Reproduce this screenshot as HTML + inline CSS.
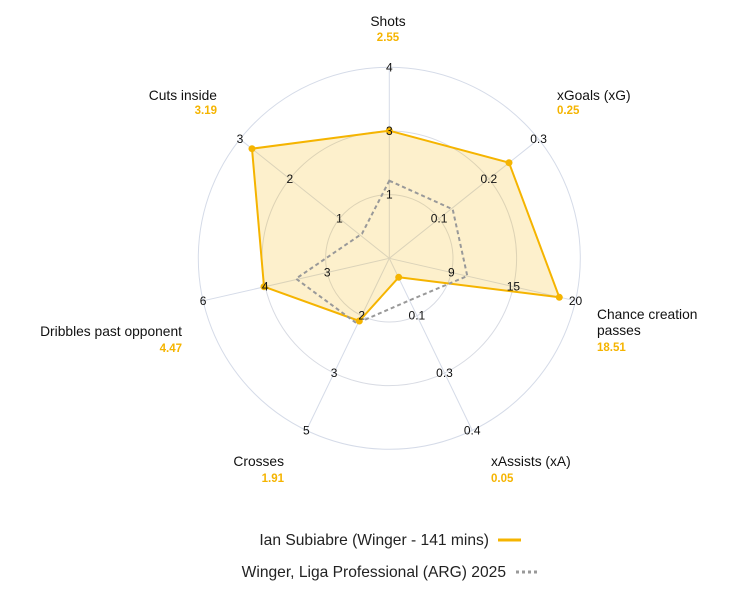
<!DOCTYPE html>
<html><head><meta charset="utf-8"><style>
body{margin:0;background:#fff;width:750px;height:597px;overflow:hidden}
svg{display:block;font-family:"Liberation Sans",Arial,sans-serif}
.t{font-size:12px;fill:#111;text-anchor:middle;dominant-baseline:central}
.l{font-size:13.8px;fill:#111}
.v{font-size:11.5px;font-weight:bold;fill:#f5b400}
</style></head><body>
<svg width="750" height="597" viewBox="0 0 750 597">
<g fill="none">
<circle cx="389.3" cy="258.3" r="63.7" stroke="#d8dbe3"/>
<circle cx="389.3" cy="258.3" r="127.3" stroke="#d8dbe3"/>
<circle cx="389.3" cy="258.3" r="191" stroke="#d5dbe8"/>
<g stroke="#d5dbe8">
<line x1="389.3" y1="258.3" x2="389.3" y2="67.3"/>
<line x1="389.3" y1="258.3" x2="538.6" y2="139.2"/>
<line x1="389.3" y1="258.3" x2="575.5" y2="300.8"/>
<line x1="389.3" y1="258.3" x2="472.2" y2="430.4"/>
<line x1="389.3" y1="258.3" x2="306.4" y2="430.4"/>
<line x1="389.3" y1="258.3" x2="203.1" y2="300.8"/>
<line x1="389.3" y1="258.3" x2="240" y2="139.2"/>
</g>
<polygon points="389.3,130.7 509,162.7 559.3,297.3 398.7,277.3 359.3,321 264,286.7 252,148.7" fill="rgba(245,180,0,0.2)" stroke="#f5b400" stroke-width="2" stroke-linejoin="round"/>
<polygon points="389.3,180.7 452.7,209.3 467.3,276 409.6,300.3 356.7,323.3 296,278.7 362,233.7" stroke="#999" stroke-width="2" stroke-dasharray="4,3"/>
</g>
<g fill="#f5b400">
<circle cx="389.3" cy="130.7" r="3.5"/><circle cx="509" cy="162.7" r="3.5"/><circle cx="559.3" cy="297.3" r="3.5"/><circle cx="398.7" cy="277.3" r="3.5"/><circle cx="359.3" cy="321" r="3.5"/><circle cx="264" cy="286.7" r="3.5"/><circle cx="252" cy="148.7" r="3.5"/>
</g>
<g>
<text class="t" x="389.3" y="194.6">1</text><text class="t" x="389.3" y="131">3</text><text class="t" x="389.3" y="67.3">4</text>
<text class="t" x="439.1" y="218.6">0.1</text><text class="t" x="488.8" y="178.9">0.2</text><text class="t" x="538.6" y="139.2">0.3</text>
<text class="t" x="451.4" y="272.5">9</text><text class="t" x="513.4" y="286.6">15</text><text class="t" x="575.5" y="300.8">20</text>
<text class="t" x="416.9" y="315.7">0.1</text><text class="t" x="444.5" y="373">0.3</text><text class="t" x="472.2" y="430.4">0.4</text>
<text class="t" x="361.7" y="315.7">2</text><text class="t" x="334.1" y="373">3</text><text class="t" x="306.4" y="430.4">5</text>
<text class="t" x="327.2" y="272.5">3</text><text class="t" x="265.2" y="286.6">4</text><text class="t" x="203.1" y="300.8">6</text>
<text class="t" x="339.5" y="218.6">1</text><text class="t" x="289.8" y="178.9">2</text><text class="t" x="240" y="139.2">3</text>
</g>
<text class="l" x="388" y="26" text-anchor="middle">Shots</text>
<text class="v" x="388" y="41" text-anchor="middle">2.55</text>
<text class="l" x="217" y="100" text-anchor="end">Cuts inside</text>
<text class="v" x="217" y="114" text-anchor="end">3.19</text>
<text class="l" x="557" y="100">xGoals (xG)</text>
<text class="v" x="557" y="114">0.25</text>
<text class="l" x="597" y="319">Chance creation</text>
<text class="l" x="597" y="335">passes</text>
<text class="v" x="597" y="351">18.51</text>
<text class="l" x="182" y="336" text-anchor="end">Dribbles past opponent</text>
<text class="v" x="182" y="352" text-anchor="end">4.47</text>
<text class="l" x="284" y="466" text-anchor="end">Crosses</text>
<text class="v" x="284" y="482" text-anchor="end">1.91</text>
<text class="l" x="491" y="466">xAssists (xA)</text>
<text class="v" x="491" y="482">0.05</text>
<text x="489" y="545" text-anchor="end" style="font-size:15.6px;fill:#222">Ian Subiabre (Winger - 141 mins)</text>
<line x1="498" y1="540" x2="521" y2="540" stroke="#f5b400" stroke-width="3"/>
<text x="506" y="577" text-anchor="end" style="font-size:15.6px;fill:#222">Winger, Liga Professional (ARG) 2025</text>
<line x1="516" y1="572" x2="539" y2="572" stroke="#999" stroke-width="3" stroke-dasharray="3,3"/>
</svg>
</body></html>
